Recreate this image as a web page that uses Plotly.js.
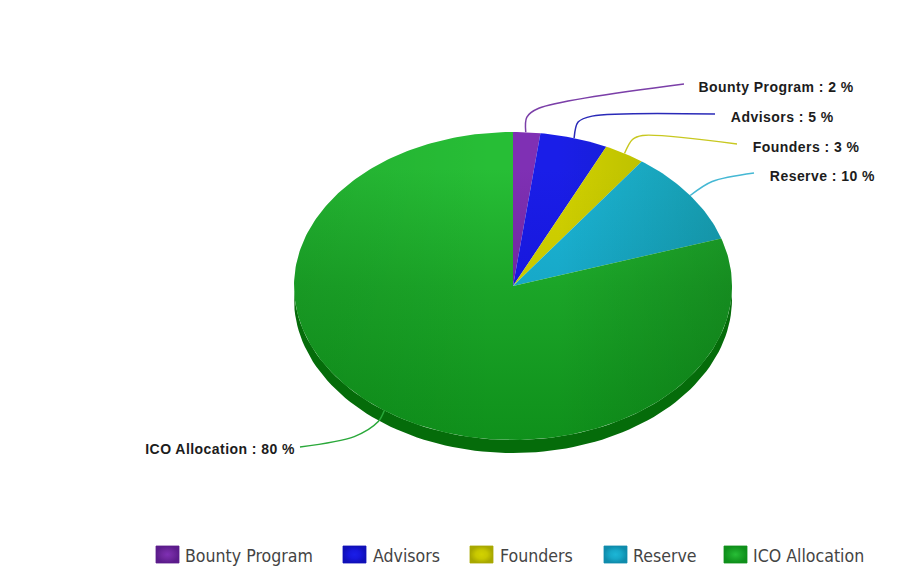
<!DOCTYPE html>
<html><head><meta charset="utf-8">
<script src="https://cdn.plot.ly/plotly-3.0.1.min.js"></script>
<style>html,body{margin:0;padding:0;background:#fff}#c{width:919px;height:569px}</style>
</head><body><div id="c"></div>
<script>
const categories = ["Bounty Program","Advisors","Founders","Reserve","ICO Allocation"];
const shares = [2,5,3,10,80];
const lightColors = ["#7f30b4","#1a1ee8","#d2d200","#1cb6d6","#27be36"];
const midColors = ["#70289f","#1717dc","#c8c800","#17a8c8","#1ba528"];
const darkColors = ["#5c1c8c","#1010b8","#a8a800","#0f8cac","#0f901b"];
const lineColors = ["#7b3fa8","#2a2ab8","#c8c820","#45b8d4","#2aa83a"];
const sideColor = "#056c0a";

const W=919,H=569,cx=513,cy=286,rx=219,ry=154,depth=13;
const xr=[-cx/rx,(W-cx)/rx], yr=[(cy-H)/ry,cy/ry];
const X=p=>(p-cx)/rx, Y=p=>(cy-p)/ry;
const total=shares.reduce((a,b)=>a+b,0);
const traces=[];

// side wall
{const xs=[],ys=[];
 for(let a=90;a<=270;a+=2){const t=a*Math.PI/180;xs.push(Math.sin(t));ys.push(Math.cos(t));}
 for(let a=270;a>=90;a-=2){const t=a*Math.PI/180;xs.push(Math.sin(t));ys.push(Math.cos(t)-depth/ry);}
 traces.push({type:'scatter',mode:'lines',x:xs,y:ys,fill:'toself',fillcolor:sideColor,line:{width:0},hoverinfo:'skip',showlegend:false});
}
// slices: a vertical base gradient, and a horizontal shade laid over it
let acc=0;const mids=[];
categories.forEach((c,i)=>{
 const a0=acc/total*360,a1=(acc+shares[i])/total*360;acc+=shares[i];mids.push((a0+a1)/2);
 const xs=[0],ys=[0];const n=Math.max(6,Math.round(a1-a0));
 for(let k=0;k<=n;k++){const t=(a0+(a1-a0)*k/n)*Math.PI/180;xs.push(Math.sin(t));ys.push(Math.cos(t));}
 xs.push(0);ys.push(0);
 traces.push({type:'scatter',mode:'lines',x:xs,y:ys,name:c,fill:'toself',line:{width:0},showlegend:false,hoverinfo:'name',
  fillcolor:midColors[i],
  fillgradient:{type:'vertical',start:-1,stop:1,colorscale:[[0,darkColors[i]],[0.5,midColors[i]],[0.88,lightColors[i]],[1,lightColors[i]]]}});
 traces.push({type:'scatter',mode:'lines',x:xs,y:ys,fill:'toself',line:{width:0},showlegend:false,hoverinfo:'skip',
  fillcolor:'rgba(0,0,0,0)',
  fillgradient:{type:'horizontal',start:-1,stop:1,colorscale:[[0,'rgba(0,40,0,0.10)'],[0.45,'rgba(0,40,0,0)'],[0.6,'rgba(0,40,0,0)'],[1,'rgba(0,40,0,0.2)']]}});
});
// leaders
const labelEnds=[[684,84],[715,114],[737,144],[754,173],[300,447]];
const labelPos=[[700.5,87],[731.5,117],[753.5,147],[770.5,176],[147.5,449]];
const annotations=[];
categories.forEach((c,i)=>{
 const t=mids[i]*Math.PI/180;
 const px=cx+rx*Math.sin(t),py=cy-ry*Math.cos(t);
 const [ex,ey]=labelEnds[i];
 const path=i==0?[[px-1,py],[px,py-15],[px+12,py-24],[ex,ey]]:
       i==1?[[px,py],[px+4,py-16],[px+18,py-22],[ex,ey]]:
       i==2?[[px,py],[px+8,py-14],[px+18,py-18],[ex,ey]]:
       i==3?[[px,py],[px+22,py-14],[ex,ey]]:
            [[px,py],[px-6,py+11],[px-30,py+26],[ex,ey]];
 traces.push({type:'scatter',mode:'lines',x:path.map(p=>X(p[0])),y:path.map(p=>Y(p[1])),
  line:{color:lineColors[i],width:1.5,shape:'spline',smoothing:0.9},hoverinfo:'skip',showlegend:false});
 annotations.push({xref:'x',yref:'y',x:X(labelPos[i][0]),y:Y(labelPos[i][1]),xanchor:'left',yanchor:'middle',showarrow:false,
  text:'<b>'+c+' : '+shares[i]+' %</b>',font:{family:'Liberation Sans, Arial, sans-serif',size:14,color:'#1c1c1c'}});
});
// legend
const legendX=[156,343,470,604,724], legendText=[183,371,498,631,751];
categories.forEach((c,i)=>{
 const x0=legendX[i],x1=x0+23,y0=546,y1=563;
 traces.push({type:'scatter',mode:'lines',x:[x0,x1,x1,x0,x0].map(X),y:[y0,y0,y1,y1,y0].map(Y),fill:'toself',
  line:{width:0.8,color:darkColors[i]},showlegend:false,hoverinfo:'skip',fillcolor:midColors[i],
  fillgradient:{type:'radial',colorscale:[[0,lightColors[i]],[0.5,midColors[i]],[1,darkColors[i]]]}});
 annotations.push({xref:'x',yref:'y',x:X(legendText[i]),y:Y(555.5),xanchor:'left',yanchor:'middle',showarrow:false,
  text:c,font:{family:'DejaVu Sans Condensed, DejaVu Sans, sans-serif',size:17.6,color:'#444'}});
});
const ax={visible:false,fixedrange:true};
Plotly.newPlot('c',traces,{width:W,height:H,margin:{l:0,r:0,t:0,b:0},paper_bgcolor:'#fff',plot_bgcolor:'#fff',
 showlegend:false,xaxis:{...ax,range:xr},yaxis:{...ax,range:yr},annotations},{displayModeBar:false,staticPlot:true}).then(()=>{
 document.querySelectorAll('.annotation-text').forEach(el=>{
  if(el.textContent.includes('%')) el.style.letterSpacing='0.45px';
 });
});
</script></body></html>
